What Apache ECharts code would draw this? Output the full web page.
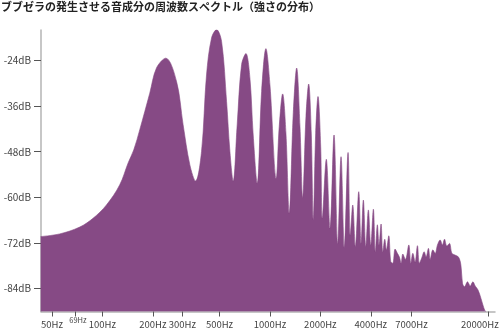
<!DOCTYPE html>
<html>
<head>
<meta charset="utf-8">
<script src="https://cdn.jsdelivr.net/npm/echarts@6/dist/echarts.min.js"></script>
<style>html,body{margin:0;padding:0;background:#fff}#c{width:500px;height:330px}</style>
</head>
<body>
<div id="c"></div>
<script>
const titleText = 'ブブゼラの発生させる音成分の周波数スペクトル（強さの分布）';
const freqHz = [42.8, 55.6, 73.2, 87.9, 105.7, 126.9, 142.2, 153.9, 167.1, 191.7, 210.2, 238.9, 276.9, 303.2, 332.5, 359.7,
  390.6, 418.3, 448.2, 480.2, 514.5, 551.1, 576.8, 603.5, 637.5, 677.3, 718.6, 759.3, 794.5, 839.5, 891.8, 946.2, 1000, 1090,
  1136, 1191, 1246, 1304, 1378, 1444, 1511, 1568, 1641, 1703, 1765, 1814, 1875, 1936, 2009, 2054, 2170, 2284, 2413, 2539,
  2657, 2780, 2926, 3020, 3121, 3235, 3389, 3499, 3611, 3733, 3868, 3998, 4144, 4259, 4378, 4481, 4606, 4716, 4847, 4955,
  5121, 5264, 5411, 5585, 5765, 5926, 6066, 6210, 6436, 6745, 6933, 7127, 7356, 7593, 7804, 8100, 8325, 8558, 8833, 9043,
  9385, 9687, 9998, 10375, 10710, 11010, 11380, 11790, 12190, 12630, 13350, 13800, 14110, 14500, 15110, 15680, 16270, 16800,
  17440, 18170, 18680, 19200, 19500];
const levelDb = [-70.3, -69.6, -67.8, -65.5, -62.0, -56.7, -51.0, -47.5, -42.2, -32.6, -26.0, -23.4, -29.5, -40.9, -51.4, -55.7,
  -47.9, -27.8, -18.1, -15.9, -19.0, -34.8, -47.9, -55.7, -40.9, -25.1, -22.2, -28.6, -43.6, -56.3, -32.2, -20.9, -30.4, -55.0,
  -41.4, -32.8, -43.1, -64.2, -37.8, -26.0, -41.4, -60.0, -38.7, -30.2, -43.1, -65.9, -43.1, -33.5, -46.6, -65.5, -50.0, -68.1, -43.6, -72.1,
  -49.3, -73.1, -48.2, -69.9, -62.0, -72.9, -58.5, -72.1, -60.7, -72.9, -63.3, -72.5, -63.1, -74.3, -67.2, -72.5, -67.0, -74.3, -71.0, -73.8,
  -70.1, -76.9, -77.3, -73.6, -74.7, -75.7, -77.3, -74.9, -76.3, -72.5, -77.3, -74.7, -77.0, -72.7, -77.3, -75.6, -74.3, -75.6, -73.4, -76.3,
  -73.8, -74.7, -72.5, -71.2, -72.5, -71.0, -72.8, -72.1, -74.7, -75.1, -75.7, -77.8, -82.6, -83.5, -82.2, -83.3, -82.2, -83.3,
  -84.3, -86.5, -88.3, -89.8, -90];
const xTickHz = [50, 69, 100, 200, 300, 500, 1000, 2000, 4000, 7000, 20000];
const xLabelHz = [50, 100, 200, 300, 500, 1000, 2000, 4000, 7000, 20000];
const xSmallLabelHz = [69];
const yTickDb = [-84, -72, -60, -48, -36, -24];

const fill = '#864a85';
const font = 'Noto Sans CJK JP';
const chart = echarts.init(document.getElementById('c'), null, {renderer: 'canvas'});
const spectrum = freqHz.map((f, i) => [f, levelDb[i]]);
const lastHz = xLabelHz[xLabelHz.length - 1];
const baseX = {
  type: 'log', logBase: 10, min: 43, max: 22050, gridIndex: 0, position: 'bottom'
};
chart.setOption({
  animation: false,
  title: {text: titleText, left: 1, top: 1, padding: 0,
    textStyle: {fontSize: 11, fontWeight: 'bold', color: '#222', fontFamily: font}},
  grid: {left: 41, right: 5, top: 30, bottom: 18.5, containLabel: false, outerBoundsMode: 'none'},
  xAxis: [
    Object.assign({}, baseX, {
      axisLine: {show: true, lineStyle: {color: '#b4b4b4', width: 1.5}},
      axisTick: {show: true, customValues: xTickHz, length: 5, lineStyle: {color: '#555'}},
      axisLabel: {customValues: xLabelHz, margin: 8, fontSize: 9.5, color: '#444', fontFamily: font,
        hideOverlap: false,
        formatter: v => Math.round(v) === lastHz ? '{e|' + Math.round(v) + 'Hz}' : Math.round(v) + 'Hz',
        rich: {e: {fontSize: 9.5, color: '#444', fontFamily: font, padding: [0, 16, 0, 0]}}},
      splitLine: {show: false}
    }),
    Object.assign({}, baseX, {
      axisLine: {show: false}, axisTick: {show: false},
      axisLabel: {customValues: xSmallLabelHz, margin: 5, fontSize: 7.5, color: '#444', fontFamily: font,
        padding: [0, 0, 0, 5], formatter: v => Math.round(v) + 'Hz'},
      splitLine: {show: false}
    })
  ],
  yAxis: {
    type: 'value', min: -90, max: -16,
    axisLine: {show: true, lineStyle: {color: '#b4b4b4', width: 1.5}},
    axisTick: {show: true, customValues: yTickDb, length: 7, lineStyle: {color: '#555'}},
    axisLabel: {customValues: yTickDb, margin: 10, fontSize: 10, color: '#444', fontFamily: font,
      formatter: v => v + 'dB'},
    splitLine: {show: false}
  },
  series: [{
    type: 'line', xAxisIndex: 0, data: spectrum, smooth: 0.35, symbol: 'none',
    lineStyle: {width: 0.6, color: fill},
    areaStyle: {origin: 'start', color: fill, opacity: 1},
    z: 1
  }]
});
</script>
</body>
</html>
